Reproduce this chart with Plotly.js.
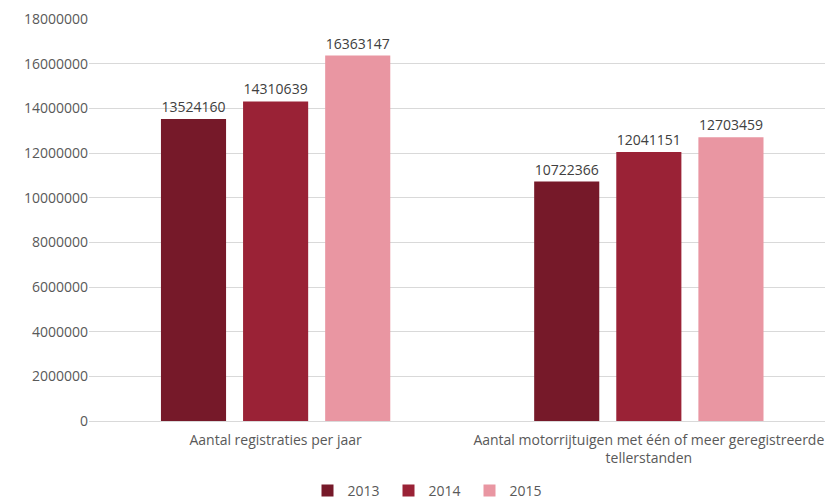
<!DOCTYPE html>
<html><head><meta charset="utf-8">
<script src="https://cdn.plot.ly/plotly-3.0.1.min.js"></script>
<style>html,body{margin:0;padding:0;background:#fff}</style>
</head><body>
<div id="chart" style="width:825px;height:499px"></div>
<script>
const categories = ["Aantal registraties per jaar", "Aantal motorrijtuigen met één of meer geregistreerde<br>tellerstanden"];
const years = ["2013", "2014", "2015"];
const values2013 = [13524160, 10722366];
const values2014 = [14310639, 12041151];
const values2015 = [16363147, 12703459];
const yTicks = [0, 2000000, 4000000, 6000000, 8000000, 10000000, 12000000, 14000000, 16000000, 18000000];
const colors = ["#761929", "#9a2236", "#e996a2"];

const FONT = "'Open Sans', sans-serif";
const seriesVals = [values2013, values2014, values2015];
const traces = years.map((y, i) => ({
  type: "bar",
  name: y,
  x: categories,
  y: seriesVals[i],
  marker: {color: colors[i]},
  text: seriesVals[i].map(v => String(v)),
  textposition: "outside",
  textfont: {color: "#404040", size: 14, family: FONT},
  cliponaxis: false,
  hoverinfo: "none"
}));

Plotly.newPlot("chart", traces, {
  width: 825, height: 499,
  margin: {l: 89, r: 0, t: 19, b: 78, autoexpand: false},
  paper_bgcolor: "#fff", plot_bgcolor: "#fff",
  font: {family: FONT, size: 14, color: "#595959"},
  barmode: "group",
  bargap: 0.34,
  bargroupgap: 0.207,
  showlegend: true,
  legend: {orientation: "h", xref: "container", x: 0.52, xanchor: "center", yref: "container", y: 0.016, yanchor: "middle",
           itemwidth: 30, entrywidth: 36, entrywidthmode: "pixels", font: {size: 14, color: "#595959"}},
  xaxis: {type: "category", range: [-0.5, 1.472], showgrid: false, showline: true,
          linecolor: "#d9d9d9", ticks: "", automargin: false, ticklabelstandoff: 6,
          tickfont: {size: 14, color: "#595959"}},
  yaxis: {range: [0, 18000000], tickvals: yTicks, ticktext: yTicks.map(String),
          showgrid: true, gridcolor: "#d9d9d9", zeroline: true, zerolinecolor: "#d9d9d9",
          ticks: "", tickfont: {size: 14, color: "#595959"}, automargin: false}
}, {displayModeBar: false, staticPlot: true});
</script>
</body></html>
